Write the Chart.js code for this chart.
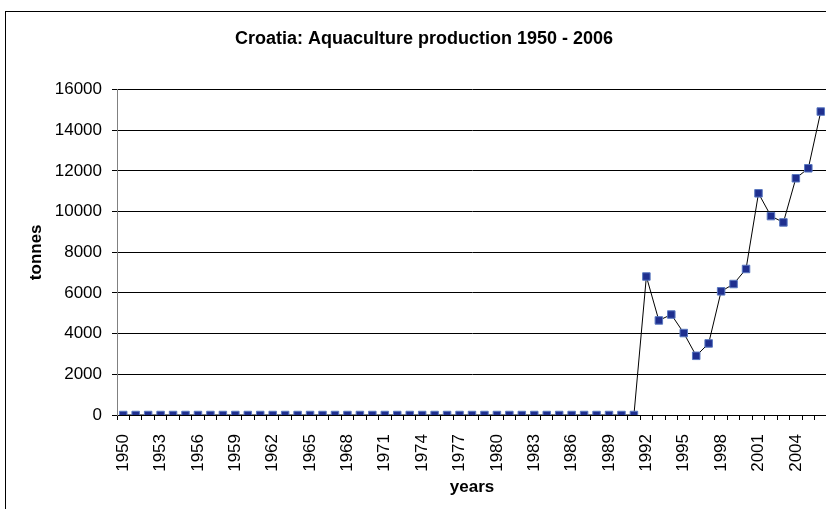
<!DOCTYPE html>
<html>
<head>
<meta charset="utf-8">
<script src="https://cdn.jsdelivr.net/npm/chart.js@4.4.1/dist/chart.umd.min.js"></script>
<style>
  html, body { margin: 0; padding: 0; overflow: hidden; background: #fff; }
  #frame { position: absolute; left: 5px; top: 11px; width: 836px; height: 510px; border: 1px solid #000; }
</style>
</head>
<body>
<div id="frame"><canvas id="aquaChart"></canvas></div>
<script>
var years = ['1950','1951','1952','1953','1954','1955','1956','1957','1958','1959',
             '1960','1961','1962','1963','1964','1965','1966','1967','1968','1969',
             '1970','1971','1972','1973','1974','1975','1976','1977','1978','1979',
             '1980','1981','1982','1983','1984','1985','1986','1987','1988','1989',
             '1990','1991','1992','1993','1994','1995','1996','1997','1998','1999',
             '2000','2001','2002','2003','2004','2005','2006'];

// tonnes per year
var production = [0,0,0,0,0,0,0,0,0,0,
                  0,0,0,0,0,0,0,0,0,0,
                  0,0,0,0,0,0,0,0,0,0,
                  0,0,0,0,0,0,0,0,0,0,
                  0,0,6810,4650,4940,4030,2910,3520,6080,6440,
                  7180,10900,9780,9470,11640,12130,14920];

var yTicks = [0, 2000, 4000, 6000, 8000, 10000, 12000, 14000, 16000];

var FONT = '"Liberation Sans", Arial, sans-serif';

var ctx = document.getElementById('aquaChart').getContext('2d');
new Chart(ctx, {
  type: 'line',
  data: {
    labels: years,
    datasets: [{
      data: production,
      label: 'Aquaculture production',
      borderColor: '#000000',
      borderWidth: 1,
      pointStyle: 'rect',
      pointRadius: 5.3,
      pointBackgroundColor: '#1f2f8f',
      pointBorderColor: '#5a78c0',
      pointBorderWidth: 1,
      fill: false,
      tension: 0
    }]
  },
  options: {
    responsive: true,
    maintainAspectRatio: false,
    animation: false,
    layout: { padding: { left: 15, right: 15, top: 0, bottom: 24 } },
    plugins: {
      legend: { display: false },
      tooltip: { enabled: false },
      title: {
        display: true,
        text: 'Croatia: Aquaculture production 1950 - 2006',
        color: '#000',
        font: { family: FONT, size: 18, weight: 'bold' },
        padding: { top: 16, bottom: 40 }
      }
    },
    scales: {
      x: {
        type: 'category',
        offset: true,
        afterFit: function(s) {
          s.height = 83;
          s.paddingLeft = 0;
          s.paddingRight = 0;
        },
        grid: { offset: true, drawOnChartArea: false, drawTicks: true, tickLength: 5, color: '#000' },
        border: { color: '#000' },
        ticks: {
          autoSkip: false,
          minRotation: 90,
          maxRotation: 90,
          padding: 14,
          color: '#000',
          font: { family: FONT, size: 17 },
          callback: function(v, i) { return i % 3 === 0 ? years[i] : ''; }
        },
        title: {
          display: true,
          text: 'years',
          color: '#000',
          font: { family: FONT, size: 17, weight: 'bold' },
          padding: { top: 0, bottom: 0 }
        }
      },
      y: {
        min: 0,
        max: 16000,
        afterFit: function(s) { s.width = 96; },
        afterBuildTicks: function(s) { s.ticks = yTicks.map(function(v) { return { value: v }; }); },
        grid: { color: '#000', tickLength: 5 },
        border: { color: '#808080' },
        ticks: {
          padding: 10,
          color: '#000',
          font: { family: FONT, size: 17 },
          callback: function(v) { return String(v); }
        },
        title: {
          display: true,
          text: 'tonnes',
          color: '#000',
          font: { family: FONT, size: 17, weight: 'bold' },
          padding: { top: 5, bottom: 0 }
        }
      }
    }
  }
});
</script>
</body>
</html>
